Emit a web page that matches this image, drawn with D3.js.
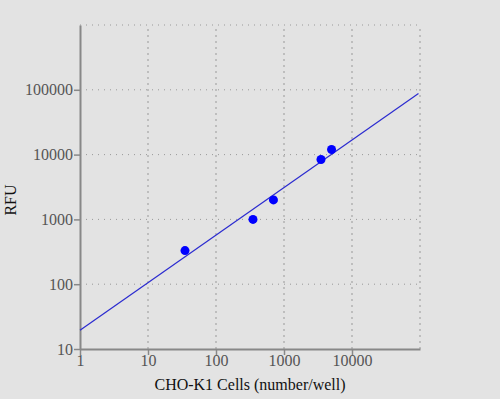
<!DOCTYPE html>
<html>
<head>
<meta charset="utf-8">
<script src="https://cdn.jsdelivr.net/npm/d3@7"></script>
<style>
  body { margin: 0; background: #e3e3e3; }
  .tick text { font-family: 'Liberation Serif', 'Times New Roman', serif; font-size: 16px; fill: #555; }
</style>
</head>
<body>
<div id="chart"></div>
<script>
// measured points
const cells = [35, 350, 700, 3500, 5000];
const rfu = [330, 1000, 2000, 8400, 12000];

// fitted line ends
const fitCells = [1, 95000];
const fitRfu = [19.5, 88000];

const xTicks = [1, 10, 100, 1000, 10000];
const yTicks = [10, 100, 1000, 10000, 100000];

const width = 500, height = 399;
const margin = { top: 25, right: 80, bottom: 50, left: 80 };

const svg = d3.select('#chart').append('svg')
  .attr('width', width)
  .attr('height', height);

svg.append('rect').attr('width', width).attr('height', height).attr('fill', '#e3e3e3');

const x = d3.scaleLog().domain([1, 100000]).range([margin.left, width - margin.right]);
const y = d3.scaleLog().domain([10, 1000000]).range([height - margin.bottom, margin.top]);

/* ---------- grid ---------- */
const grid = svg.append('g').attr('class', 'grid');
grid.selectAll('.vgrid')
  .data([10, 100, 1000, 10000, 100000])
  .enter().append('line')
  .attr('x1', d => x(d)).attr('x2', d => x(d))
  .attr('y1', y(10)).attr('y2', y(1000000))
  .style('stroke', '#999')
  .style('stroke-dasharray', '2,4');
grid.selectAll('.hgrid')
  .data([100, 1000, 10000, 100000, 1000000])
  .enter().append('line')
  .attr('y1', d => y(d)).attr('y2', d => y(d))
  .attr('x1', x(1)).attr('x2', x(100000))
  .style('stroke', '#999')
  .style('stroke-dasharray', '1,5');

/* ---------- axes ---------- */
const xAxis = svg.append('g')
  .attr('transform', 'translate(0,' + y(10) + ')')
  .call(d3.axisBottom(x).tickValues(xTicks).tickFormat(d3.format('d')).tickSize(6).tickSizeOuter(0));
const yAxis = svg.append('g')
  .attr('transform', 'translate(' + x(1) + ',0)')
  .call(d3.axisLeft(y).tickValues(yTicks).tickFormat(d3.format('d')).tickSize(6).tickSizeOuter(0));

[xAxis, yAxis].forEach(a => {
  a.select('.domain').style('stroke', '#888').style('stroke-width', 2);
  a.selectAll('.tick line').style('stroke', '#888').style('stroke-width', 1.5);
});
xAxis.selectAll('.tick text').attr('dy', '0.9em').attr('y', 3);
yAxis.selectAll('.tick text').attr('x', -7);

/* ---------- fit line ---------- */
svg.append('path')
  .datum(d3.zip(fitCells, fitRfu))
  .attr('d', d3.line().x(d => x(d[0])).y(d => y(d[1])))
  .style('fill', 'none')
  .style('stroke', '#2b2bd0')
  .style('stroke-width', 1.2);

/* ---------- points ---------- */
svg.append('g').selectAll('circle')
  .data(d3.zip(cells, rfu))
  .enter().append('circle')
  .attr('cx', d => x(d[0]))
  .attr('cy', d => y(d[1]))
  .attr('r', 4.5)
  .style('fill', '#0000ff');

/* ---------- titles ---------- */
svg.append('text')
  .attr('x', (x(1) + x(100000)) / 2)
  .attr('y', 390)
  .attr('text-anchor', 'middle')
  .style('font-family', "'Liberation Serif', 'Times New Roman', serif")
  .style('font-size', '16px')
  .style('fill', '#111')
  .text('CHO-K1 Cells (number/well)');

svg.append('text')
  .attr('transform', 'translate(16,' + ((y(10) + y(1000000)) / 2 + 13) + ') rotate(-90)')
  .attr('text-anchor', 'middle')
  .style('font-family', "'Liberation Serif', 'Times New Roman', serif")
  .style('font-size', '16px')
  .style('fill', '#111')
  .text('RFU');
</script>
</body>
</html>
